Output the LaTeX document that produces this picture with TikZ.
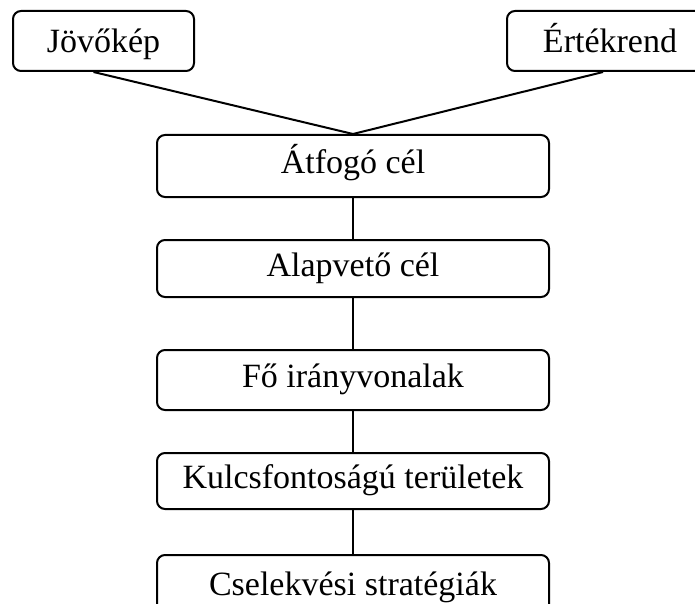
\documentclass[tikz,border=0pt]{standalone}
\usepackage{fontspec}
\setmainfont{Liberation Serif}
\usetikzlibrary{calc}
\begin{document}
\begin{tikzpicture}[x=1pt,y=-1pt,
  box/.style={draw=black, line width=2pt, rounded corners=8pt, inner sep=0pt,
    font=\fontsize{34}{40}\selectfont, text height=24pt, text depth=8.5pt},
  topbox/.style={box, text height=24pt, text depth=0pt},
  conn/.style={draw=black, line width=2pt}]
\useasboundingbox (0,0) rectangle (695,604);
\clip (0,0) rectangle (695,604);
\node[topbox, minimum width=181pt, minimum height=60pt] (jov) at (103.5,41) {Jövőkép};
\node[topbox, minimum width=206pt, minimum height=60pt] (ert) at (610,41) {Értékrend};
\node[box, minimum width=392pt, minimum height=62pt] (atf) at (353,166) {Átfogó cél};
\node[box, minimum width=392pt, minimum height=57pt] (alap) at (353,268.5) {Alapvető cél};
\node[box, minimum width=392pt, minimum height=60pt] (fo) at (353,380) {Fő irányvonalak};
\node[box, minimum width=392pt, minimum height=56pt] (kulcs) at (353,481) {Kulcsfontoságú területek};
\node[box, minimum width=392pt, minimum height=66pt] (csel) at (353,588) {Cselekvési stratégiák};
\coordinate (jovout) at ($(jov.south)+(-10,0)$);
\coordinate (ertout) at ($(ert.south)+(-7,0)$);
\draw[conn] (jovout) -- (atf.north);
\draw[conn] (ertout) -- (atf.north);
\draw[conn] (atf.south) -- (alap.north);
\draw[conn] (alap.south) -- (fo.north);
\draw[conn] (fo.south) -- (kulcs.north);
\draw[conn] (kulcs.south) -- (csel.north);
\end{tikzpicture}
\end{document}
